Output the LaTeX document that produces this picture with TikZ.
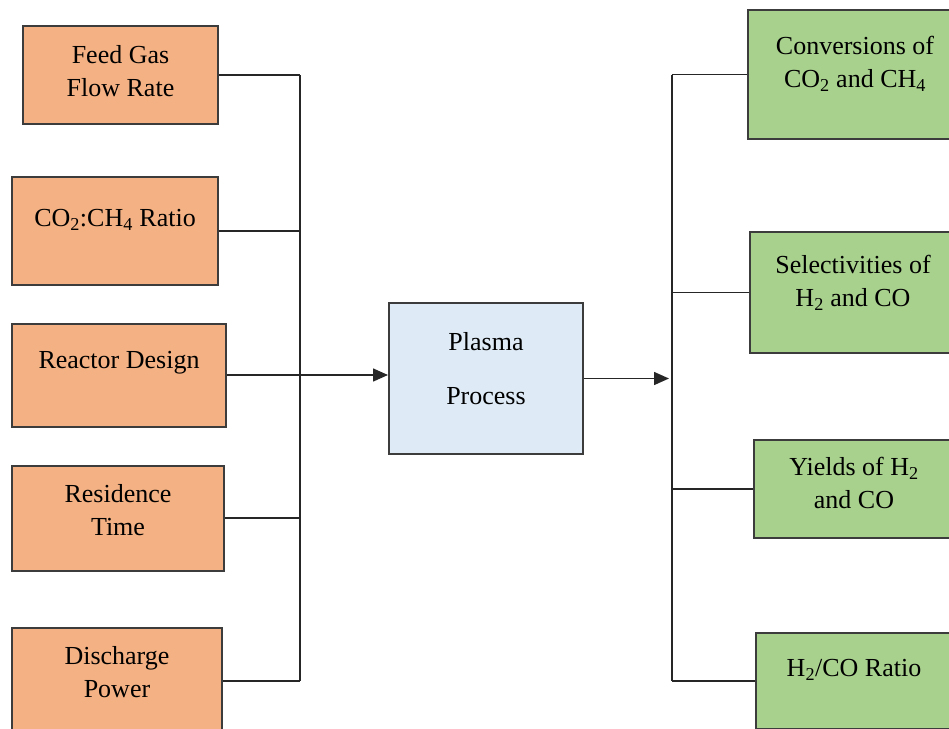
\documentclass[tikz,border=0pt]{standalone}
\usepackage{fontspec}
\setmainfont{Liberation Serif}
\usepackage{xcolor}
\usetikzlibrary{arrows.meta,positioning,calc}
\definecolor{inorange}{HTML}{F4B183}
\definecolor{outgreen}{HTML}{A9D18E}
\definecolor{procblue}{HTML}{DEEBF7}
\definecolor{boxline}{HTML}{3C3C3C}

\begin{document}
\begin{tikzpicture}[x=1pt,y=-1pt,
  box/.style={rectangle, draw=boxline, line width=2pt, inner sep=0pt},
  inbox/.style={box, fill=inorange},
  outbox/.style={box, fill=outgreen},
  txt/.style={align=center, font=\fontsize{26}{33}\selectfont, inner sep=0pt},
  wire/.style={line width=1.5pt, black!85},
  arrow/.style={wire, -{Triangle[length=15pt,width=13pt]}},
]
\useasboundingbox (0,0) rectangle (949,728);
\clip (0,0) rectangle (949,728);
% inputs
\node[inbox, minimum width=195, minimum height=98] (feed) at (120.5,75) {};
\node[inbox, minimum width=206, minimum height=108] (ratio) at (115,231) {};
\node[inbox, minimum width=214, minimum height=103] (reactor) at (119,375) {};
\node[inbox, minimum width=212, minimum height=105] (resid) at (118,518) {};
\node[inbox, minimum width=210, minimum height=106] (power) at (117,681) {};
\node[txt] (feed-t) at ([yshift=4]feed.center) {Feed Gas\\Flow Rate};
\node[txt] (ratio-t) at ([yshift=11]ratio.center) {CO\textsubscript{2}:CH\textsubscript{4} Ratio};
\node[txt] (reactor-t) at ([yshift=12]reactor.center) {Reactor Design};
\node[txt] (resid-t) at ([yshift=8]resid.center) {Residence\\Time};
\node[txt] (power-t) at ([yshift=9]power.center) {Discharge\\Power};
% process
\node[box, fill=procblue, minimum width=194, minimum height=151] (plasma) at (486,378.5) {};
\node[txt, font=\fontsize{26}{54}\selectfont] (plasma-t) at ([yshift=10]plasma.center) {Plasma\\Process};
% outputs
\node[outbox, minimum width=212, minimum height=129] (conv) at (854,74.5) {};
\node[outbox, minimum width=210, minimum height=121] (sel) at (855,292.5) {};
\node[outbox, minimum width=206, minimum height=98] (yield) at (857,489) {};
\node[outbox, minimum width=204, minimum height=96] (h2co) at (858,681) {};
\node[txt] (conv-t) at ([xshift=1,yshift=11]conv.center) {Conversions of\\CO\textsubscript{2} and CH\textsubscript{4}};
\node[txt] (sel-t) at ([xshift=-2,yshift=10]sel.center) {Selectivities of\\H\textsubscript{2} and CO};
\node[txt] (yield-t) at ([xshift=-3,yshift=6]yield.center) {Yields of H\textsubscript{2}\\and CO};
\node[txt] (h2co-t) at ([xshift=-4,yshift=11]h2co.center) {H\textsubscript{2}/CO Ratio};
% buses
\coordinate (lbus) at (300,0);
\coordinate (rbus) at (672,0);
\foreach \n in {feed,ratio,reactor,resid,power}
  \draw[wire] (\n.east) -- (\n.east -| lbus);
\draw[wire] (feed.east -| lbus) -- (power.east -| lbus);
\draw[arrow] (reactor.east -| lbus) -- (reactor.east -| plasma.west);
\draw[arrow] (plasma.east) -- ([xshift=-3]plasma.east -| rbus);
\foreach \n in {conv,sel,yield,h2co}
  \draw[wire] (\n.west) -- (\n.west -| rbus);
\draw[wire] (conv.west -| rbus) -- (h2co.west -| rbus);
\end{tikzpicture}
\end{document}
